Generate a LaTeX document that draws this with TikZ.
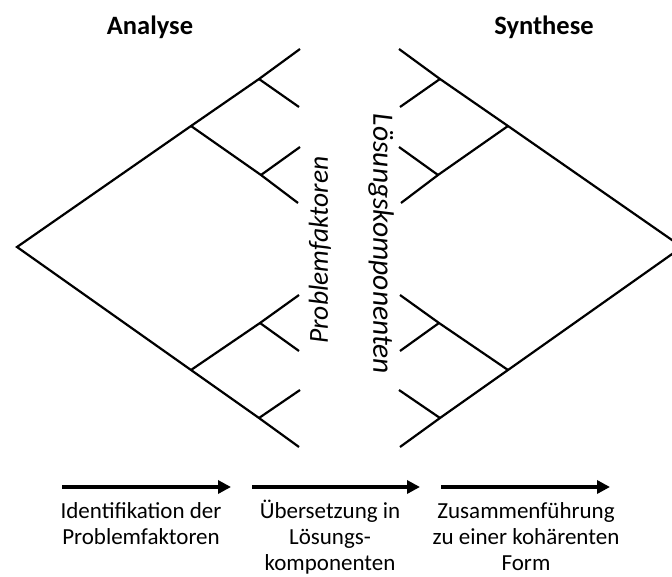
\documentclass[tikz,border=0pt]{standalone}
\usepackage{fontspec}
\setmainfont{Carlito}
\usetikzlibrary{arrows.meta, positioning, calc}

\begin{document}
\begin{tikzpicture}[
  x=1pt, y=-1pt,
  branch/.style={line width=2.2pt, line join=miter},
  phase/.style={line width=4.5pt, -{Triangle[length=13pt, width=13pt]}},
  title/.style={font=\fontsize{26.5}{30}\selectfont\bfseries},
  side/.style={font=\fontsize{27.5}{32}\selectfont\itshape},
  step text/.style={font=\fontsize{23}{26}\selectfont, align=center, anchor=base, inner sep=0pt}
]
  \useasboundingbox (0,0) rectangle (672,577);

  % both trees, the right one mirrored
  \foreach \t/\sx/\ox in {l/1/0, r/-1/699} {
    \begin{scope}[shift={(\ox,0)}, xscale=\sx]
      \coordinate (\t root) at (17,247);
      \coordinate (\t A) at (191,126);
      \coordinate (\t B) at (259,79);
      \coordinate (\t C) at (261,175);
      \coordinate (\t D) at (191,370);
      \coordinate (\t E) at (260,323);
      \coordinate (\t F) at (259,418);
      \coordinate (\t a1) at (300,49);
      \coordinate (\t a2) at (299,107);
      \coordinate (\t a3) at (300,147);
      \coordinate (\t a4) at (298,203);
      \coordinate (\t d1) at (299,295);
      \coordinate (\t d2) at (299,351);
      \coordinate (\t d3) at (300,390);
      \coordinate (\t d4) at (299,447);
    \end{scope}
    \draw[branch] (\t a1) -- (\t B) -- (\t A) -- (\t root) -- (\t D) -- (\t F) -- (\t d4);
    \draw[branch] (\t B) -- (\t a2);
    \draw[branch] (\t A) -- (\t C) -- (\t a4);
    \draw[branch] (\t C) -- (\t a3);
    \draw[branch] (\t D) -- (\t E) -- (\t d1);
    \draw[branch] (\t E) -- (\t d2);
    \draw[branch] (\t F) -- (\t d3);
  }

  \node[title] (analyse) at (150,27) {Analyse};
  \node[title] (synthese) at (544,27) {Synthese};

  \node[side, rotate=90] (faktoren) at (320,250) {Problemfaktoren};
  \node[side, rotate=-90, font=\fontsize{29.5}{34}\selectfont\itshape] (loesung) at (381,244) {Lösungskomponenten};

  % phases
  \coordinate (p1s) at (62,487);
  \coordinate (p1e) at (231,487);
  \coordinate (p2s) at (252,487);
  \coordinate (p2e) at (420,487);
  \coordinate (p3s) at (441,487);
  \coordinate (p3e) at (610,487);
  \draw[phase] (p1s) -- (p1e);
  \draw[phase] (p2s) -- (p2e);
  \draw[phase] (p3s) -- (p3e);

  % anchor=base sits on the last line
  \node[step text] (ident) at (141,544) {Identifikation der\\Problemfaktoren};
  \node[step text] (ueber) at (330,570) {Übersetzung in\\Lösungs-\\komponenten};
  \node[step text] (zusam) at (526,570) {Zusammenführung\\zu einer kohärenten\\Form};
\end{tikzpicture}
\end{document}
